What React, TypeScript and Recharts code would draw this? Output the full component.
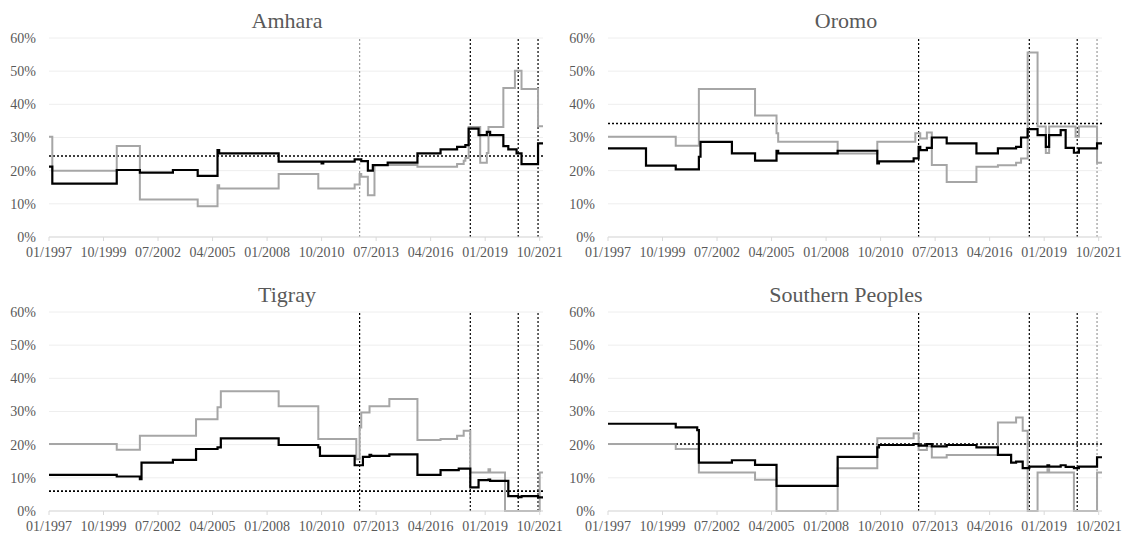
import { CartesianGrid, Line, LineChart, ReferenceLine, XAxis, YAxis } from 'recharts';

// months since 01/1997 -> share (%)
const MONTH_TICKS = [0, 33, 66, 99, 132, 165, 198, 231, 264, 297];
const PCT_TICKS = [0, 10, 20, 30, 40, 50, 60];
const EVENT_MONTHS = [188, 255, 284, 296];

const AMHARA_BLACK = [
  [0, 21.2], [2, 16.1], [41, 20.2], [55, 19.4], [75, 20.2], [90, 18.4], [102, 26.2], [103, 25.2],
  [139, 22.7], [165, 22.2], [166, 22.7], [185, 23.4], [189, 22.9], [193, 20], [196, 21.7], [205, 22.4],
  [223, 25.2], [237, 26.4], [247, 27.2], [252, 27.7], [254, 32.7], [260, 30.7], [265, 31.7], [267, 30.7],
  [275, 27.4], [278, 26.4], [283, 25.2], [286, 22], [296, 28.2], [299, 28.2],
];
const AMHARA_GRAY = [
  [0, 30.2], [2, 20], [41, 27.4], [55, 11.3], [90, 9.3], [102, 15.6], [103, 14.6], [139, 19],
  [163, 14.6], [185, 15.8], [188, 19], [189, 18.2], [193, 12.6], [197, 21.7], [223, 21.2], [247, 22],
  [251, 23], [252, 23.8], [254, 33.2], [261, 22.4], [265, 25.3], [266, 33.2], [275, 44.9], [282, 50.1],
  [286, 44.6], [296, 33.4], [299, 33.4],
];
const AMHARA_AVG = 24.4;

const OROMO_BLACK = [
  [0, 26.7], [23, 21.5], [41, 20.4], [55, 24.2], [56, 28.7], [75, 25.2], [89, 23], [102, 26],
  [103, 25.2], [139, 26], [163, 22.2], [164, 22.8], [185, 23.7], [188, 27.2], [189, 26.2], [193, 26.9],
  [196, 30], [205, 28.2], [223, 25.2], [236, 26.7], [247, 27.2], [250, 30], [254, 32.5], [260, 30.7],
  [265, 27.2], [267, 30.7], [274, 32.2], [277, 26.9], [282, 25.4], [285, 26.7], [296, 28.2], [299, 28.2],
];
const OROMO_GRAY = [
  [0, 30.2], [41, 27.5], [55, 44.6], [89, 36.6], [102, 31.3], [103, 28.7], [139, 25.2], [163, 28.7],
  [186, 31.3], [189, 29.7], [193, 31.5], [196, 21.7], [205, 16.6], [223, 21.2], [236, 21.6], [247, 22.4],
  [250, 23.7], [254, 55.6], [260, 33.3], [265, 25.3], [267, 33.3], [283, 30.2], [285, 33.3], [296, 22.4],
  [299, 22.4],
];
const OROMO_AVG = 34.2;

const TIGRAY_BLACK = [
  [0, 10.9], [41, 10.4], [55, 9.6], [56, 14.6], [75, 15.4], [89, 18.7], [102, 19.2], [104, 21.9],
  [139, 19.9], [163, 19.2], [164, 16.6], [185, 13.8], [190, 16.3], [194, 16.9], [195, 16.6], [206, 17.1],
  [223, 10.9], [237, 12.3], [248, 12.8], [255, 7.1], [260, 9.3], [266, 9.5], [267, 9.1], [278, 4.5],
  [284, 4.2], [286, 4.5], [296, 4.1], [299, 4.1],
];
const TIGRAY_GRAY = [
  [0, 20.2], [41, 18.5], [55, 22.7], [89, 27.7], [102, 31.3], [104, 36.1], [139, 31.6], [163, 21.7],
  [186, 15.6], [188, 25.2], [189, 29.7], [194, 31.6], [206, 33.8], [223, 21.4], [237, 21.7], [247, 22.7],
  [251, 24.2], [255, 11.6], [266, 12.6], [267, 11.6], [276, 0], [297, 11.6], [299, 11.6],
];
const TIGRAY_AVG = 6;

const SOUTH_BLACK = [
  [0, 26.3], [41, 25.2], [54, 24.4], [55, 14.6], [75, 15.3], [89, 13.9], [102, 7.6], [139, 16.3],
  [163, 19.2], [164, 19.9], [185, 20.2], [188, 19.7], [193, 20.2], [196, 19.5], [205, 19.9], [223, 19.2],
  [236, 16.9], [244, 14.6], [247, 14.9], [251, 12.9], [255, 13.4], [266, 13.8], [267, 13.4], [274, 13.8],
  [277, 13.3], [282, 12.9], [285, 13.4], [296, 16.2], [299, 16.2],
];
const SOUTH_GRAY = [
  [0, 20.2], [41, 18.7], [55, 11.6], [89, 9.4], [102, 0], [139, 12.9], [163, 21.9], [185, 23.4],
  [188, 18.4], [193, 19.5], [196, 16.1], [205, 16.9], [236, 26.7], [247, 28.2], [251, 24.2], [254, 0],
  [260, 11.6], [266, 12.6], [267, 11.6], [282, 0], [296, 11.6], [299, 11.6],
];
const SOUTH_AVG = 20.2;

const FONT = "'Liberation Serif', serif";
const TEXT = '#595959';
const GRAY = '#a6a6a6';

const fmtMonth = (m: number) => `${String((m % 12) + 1).padStart(2, '0')}/${1997 + Math.floor(m / 12)}`;
const toRows = (pts: number[][]) => pts.map(([m, v]) => ({ m, v }));

type PanelProps = {
  left: number;
  top: number;
  title: string;
  black: number[][];
  gray: number[][];
  avg: number;
  eventColors: string[];
};

function Panel({ left, top, title, black, gray, avg, eventColors }: PanelProps) {
  return (
    <div style={{ position: 'absolute', left, top, width: 563, height: 265 }}>
      <div
        style={{
          position: 'absolute',
          left: 0,
          top: 8,
          width: 574,
          textAlign: 'center',
          fontFamily: FONT,
          fontSize: 22,
          lineHeight: '25px',
          color: TEXT,
        }}
      >
        {title}
      </div>
      <LineChart
        width={563}
        height={265}
        margin={{ top: 38, right: 20, bottom: 0, left: 0 }}
        style={{ position: 'absolute', left: 0, top: 0 }}
      >
        <CartesianGrid vertical={false} stroke="#eeeeee" />
        <XAxis
          type="number"
          dataKey="m"
          domain={[0, 299]}
          ticks={MONTH_TICKS}
          interval={0}
          tickFormatter={fmtMonth}
          height={28}
          tickSize={4}
          tickMargin={6}
          stroke="#d9d9d9"
          tick={{ fill: TEXT, fontSize: 14, fontFamily: FONT }}
        />
        <YAxis
          type="number"
          domain={[0, 60]}
          ticks={PCT_TICKS}
          interval={0}
          tickFormatter={(v: number) => `${v}%`}
          width={49}
          axisLine={false}
          tickLine={false}
          tickSize={0}
          tickMargin={13}
          tick={{ fill: TEXT, fontSize: 14, fontFamily: FONT }}
        />
        {EVENT_MONTHS.map((m, i) => (
          <ReferenceLine key={m} x={m} stroke={eventColors[i]} strokeDasharray="2 2" strokeWidth={1.2} />
        ))}
        <ReferenceLine y={avg} stroke="#000" strokeDasharray="2 2" strokeWidth={1.6} />
        <Line
          data={toRows(gray)}
          dataKey="v"
          type="stepAfter"
          stroke={GRAY}
          strokeWidth={2}
          dot={false}
          isAnimationActive={false}
        />
        <Line
          data={toRows(black)}
          dataKey="v"
          type="stepAfter"
          stroke="#000"
          strokeWidth={2.2}
          dot={false}
          isAnimationActive={false}
        />
      </LineChart>
    </div>
  );
}

export default function App() {
  return (
    <div
      style={{
        position: 'absolute',
        left: 0,
        top: 0,
        width: 1127,
        height: 535,
        overflow: 'hidden',
        background: '#fff',
      }}
    >
      <Panel left={0} top={0} title="Amhara" black={AMHARA_BLACK} gray={AMHARA_GRAY} avg={AMHARA_AVG}
        eventColors={['#9a9a9a', '#000', '#000', '#000']} />
      <Panel left={559} top={0} title="Oromo" black={OROMO_BLACK} gray={OROMO_GRAY} avg={OROMO_AVG}
        eventColors={['#000', '#000', '#000', '#9a9a9a']} />
      <Panel left={0} top={274} title="Tigray" black={TIGRAY_BLACK} gray={TIGRAY_GRAY} avg={TIGRAY_AVG}
        eventColors={['#000', '#000', '#000', '#000']} />
      <Panel left={559} top={274} title="Southern Peoples" black={SOUTH_BLACK} gray={SOUTH_GRAY} avg={SOUTH_AVG}
        eventColors={['#000', '#000', '#000', '#9a9a9a']} />
    </div>
  );
}
